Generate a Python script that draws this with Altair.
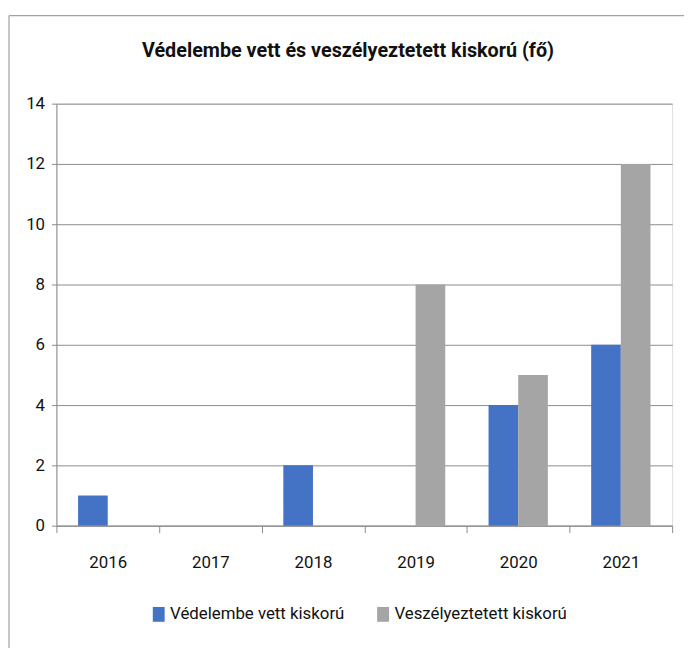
import altair as alt
import pandas as pd

years = ["2016", "2017", "2018", "2019", "2020", "2021"]
series_names = ["Védelembe vett kiskorú", "Veszélyeztetett kiskorú"]
vedelembe = [1, 0, 2, 0, 4, 6]
veszelyeztetett = [0, 0, 0, 8, 5, 12]
y_ticks = [0, 2, 4, 6, 8, 10, 12, 14]
title_text = "Védelembe vett és veszélyeztetett kiskorú (fő)"
colors = ["#4472C4", "#A5A5A5"]

rows = []
for i, yr in enumerate(years):
    rows.append({"year": yr, "series": series_names[0], "value": vedelembe[i]})
    rows.append({"year": yr, "series": series_names[1], "value": veszelyeztetett[i]})
df = pd.DataFrame(rows)

FONT = "Roboto"
AXIS_GRAY = "#8c8c8c"
TEXT = "#111111"

bars = alt.Chart(df).mark_bar().encode(
    x=alt.X(
        "year:N",
        sort=years,
        scale=alt.Scale(paddingInner=0, paddingOuter=0),
        axis=alt.Axis(
            title=None,
            labelAngle=0,
            tickBand="extent",
            tickSize=7,
            tickColor=AXIS_GRAY,
            domainColor=AXIS_GRAY,
            labelFont=FONT,
            labelFontSize=17,
            labelColor=TEXT,
            labelPadding=22,
            grid=False,
        ),
    ),
    xOffset=alt.XOffset(
        "series:N",
        sort=series_names,
        scale=alt.Scale(paddingInner=0, paddingOuter=0.73),
    ),
    y=alt.Y(
        "value:Q",
        scale=alt.Scale(domain=[0, 14], nice=False),
        axis=alt.Axis(
            title=None,
            values=y_ticks,
            tickSize=5,
            tickColor=AXIS_GRAY,
            domainColor=AXIS_GRAY,
            gridColor=AXIS_GRAY,
            grid=True,
            labelFont=FONT,
            labelFontSize=17,
            labelColor=TEXT,
            labelPadding=7,
        ),
    ),
    color=alt.Color(
        "series:N",
        sort=series_names,
        scale=alt.Scale(domain=series_names, range=colors),
        legend=alt.Legend(
            title=None,
            orient="none",
            legendX=95,
            legendY=508,
            direction="horizontal",
            columns=2,
            columnPadding=30,
            symbolType="M-0.8,-1L0.8,-1L0.8,1L-0.8,1Z",
            symbolSize=225,
            symbolStrokeWidth=0,
            labelFont=FONT,
            labelFontSize=17,
            labelColor=TEXT,
            labelOffset=3,
            labelLimit=0,
        ),
    ),
)

border = alt.Chart(pd.DataFrame({"a": [0]})).mark_rect(
    fill=None, stroke="#8c8c8c", strokeWidth=1
).encode(
    x=alt.value(-48),
    x2=alt.value(700),
    y=alt.value(-89),
    y2=alt.value(600),
)

title = alt.Chart(pd.DataFrame({"t": [title_text]})).mark_text(
    font=FONT,
    fontSize=20,
    fontWeight="bold",
    color=TEXT,
    align="center",
    baseline="middle",
).encode(
    text="t:N",
    x=alt.value(295),
    y=alt.value(-53),
)

chart = alt.layer(border, bars, title).properties(
    width=623,
    height=427,
    autosize=alt.AutoSizeParams(type="none"),
    padding={"left": 49, "top": 93, "right": 12, "bottom": 120},
).configure_view(stroke=None).configure(background="white")

chart.save("out.html", embed_options={"renderer": "svg", "actions": False})
